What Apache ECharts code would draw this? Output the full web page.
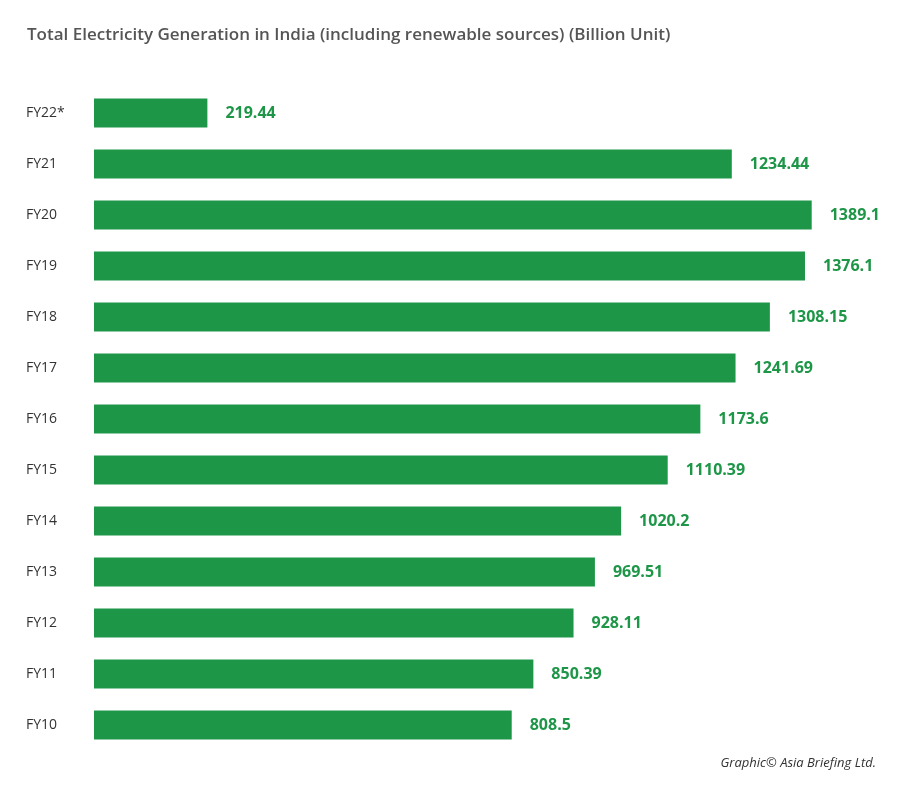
<!DOCTYPE html>
<html>
<head>
<meta charset="utf-8">
<script src="https://cdn.jsdelivr.net/npm/echarts@6/dist/echarts.min.js"></script>
<style>
  html,body{margin:0;padding:0;background:#fff;}
  #main{width:900px;height:792px;}
</style>
</head>
<body>
<div id="main"></div>
<script>
var years = ['FY10','FY11','FY12','FY13','FY14','FY15','FY16','FY17','FY18','FY19','FY20','FY21','FY22*'];
var generation = [808.5, 850.39, 928.11, 969.51, 1020.2, 1110.39, 1173.6, 1241.69, 1308.15, 1376.1, 1389.1, 1234.44, 219.44];

var chart = echarts.init(document.getElementById('main'));
chart.setOption({
  animation: false,
  title: {
    text: 'Total Electricity Generation in India (including renewable sources) (Billion Unit)',
    left: 22, top: 22,
    textStyle: {fontFamily: 'Open Sans', fontSize: 17, fontWeight: 600, color: '#555'}
  },
  graphic: [{
    type: 'text', right: 24, top: 757,
    style: {text: 'Graphic© Asia Briefing Ltd.', fontFamily: 'Open Sans', fontStyle: 'italic', fontSize: 13, fill: '#333'}
  }],
  grid: {left: 94, right: 31, top: 87.5, bottom: 41.5},
  xAxis: {type: 'value', min: 0, max: 1500, show: false},
  yAxis: {
    type: 'category', data: years,
    axisLine: {show: false}, axisTick: {show: false},
    axisLabel: {align: 'left', margin: 68, fontFamily: 'Open Sans', fontSize: 14, color: '#333'}
  },
  series: [{
    type: 'bar', data: generation, barCategoryGap: '43%',
    itemStyle: {color: '#1e9648'},
    label: {
      show: true, position: 'right', distance: 18,
      fontFamily: 'Open Sans', fontSize: 16, fontWeight: 'bold', color: '#1e9648'
    }
  }]
});
</script>
</body>
</html>
